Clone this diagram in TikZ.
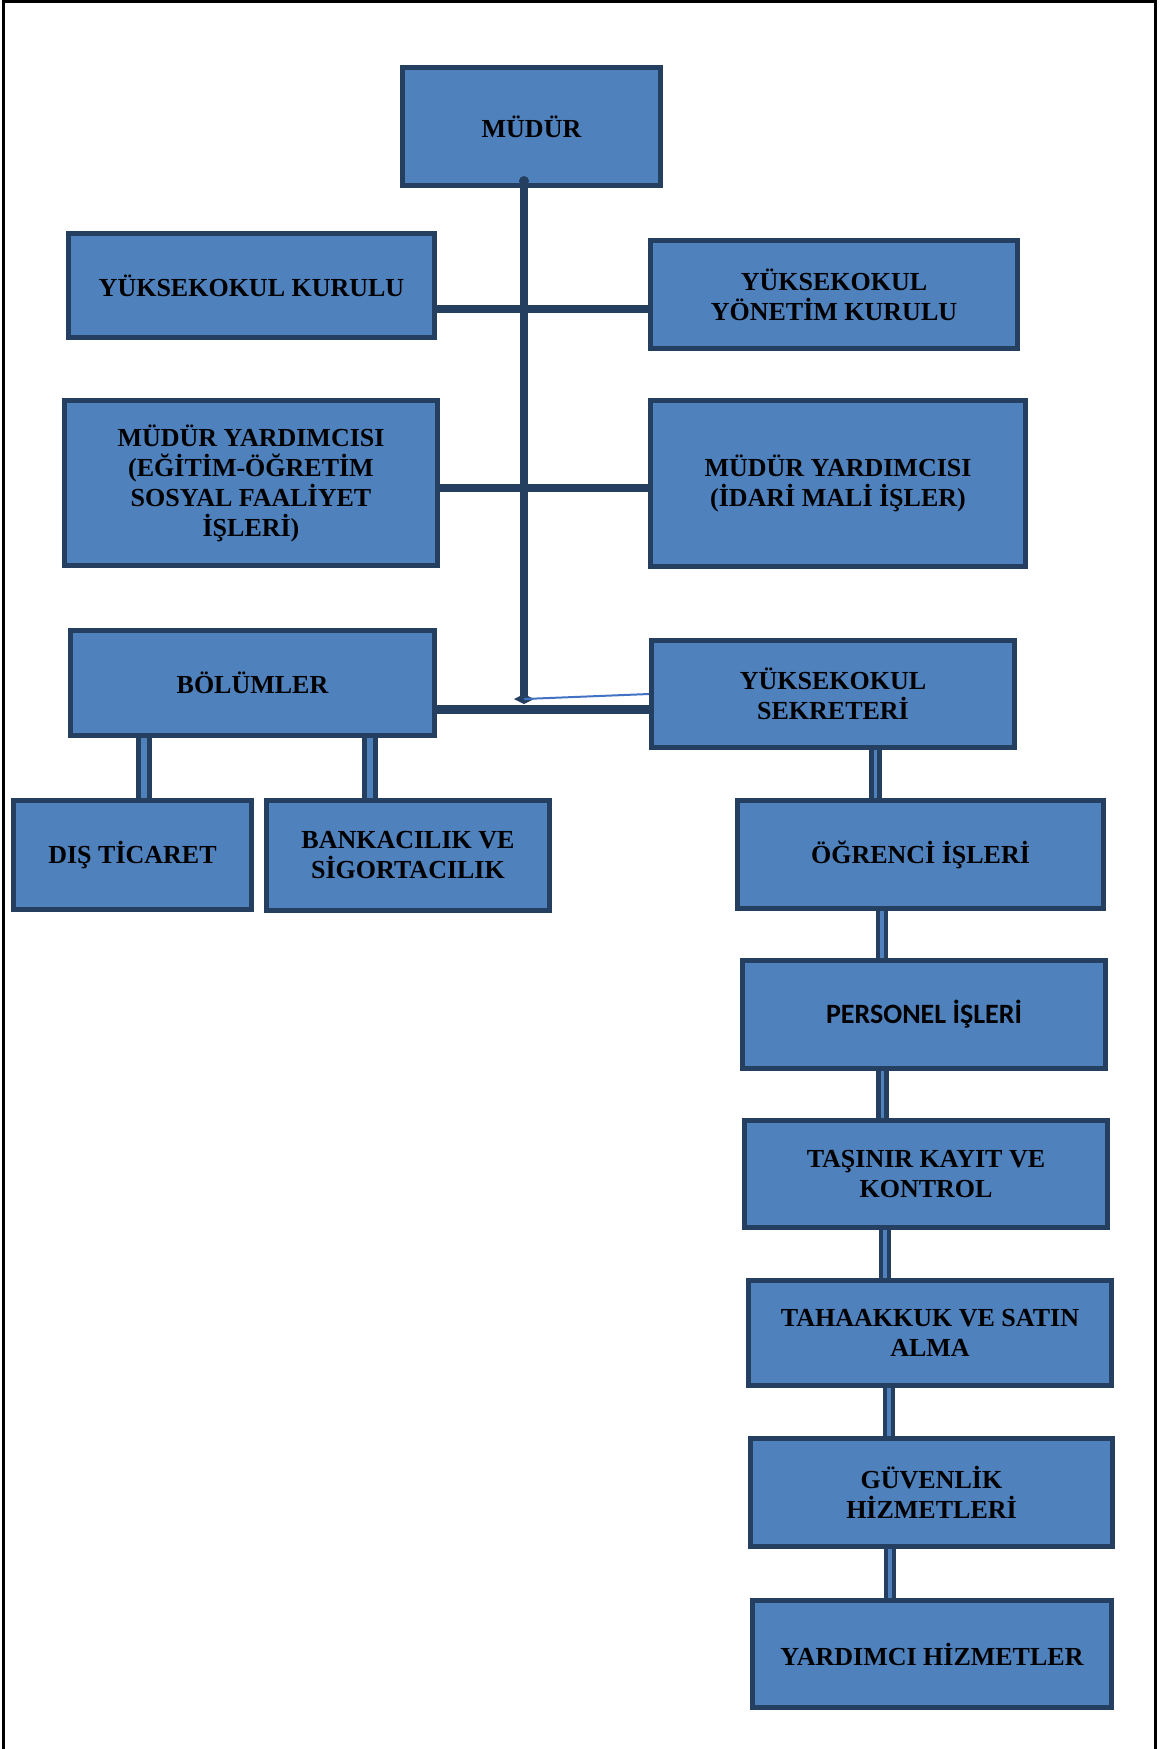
\documentclass[tikz,border=0pt]{standalone}
\usepackage{fontspec}
\setmainfont{Liberation Serif}
\newfontfamily\calib{Carlito}
\definecolor{boxblue}{RGB}{79,129,189}
\definecolor{boxdark}{RGB}{37,63,96}
\definecolor{thinblue}{RGB}{66,114,196}
\pgfdeclarelayer{paper}
\pgfdeclarelayer{bg}
\pgfsetlayers{paper,bg,main}
\tikzset{
  box/.style={draw=boxdark, fill=boxblue, line width=5pt, rectangle, inner sep=0pt, align=center,
    font=\fontsize{26}{30}\selectfont\bfseries, text=black},
  trunkline/.style={draw=boxdark, line width=8pt},
  hline/.style={draw=boxdark, line width=8pt, line cap=round},
  dblR/.style={draw=boxdark, line width=4.5pt, double=boxblue, double distance=3.5pt},
  dblL/.style={draw=boxdark, line width=5pt, double=boxblue, double distance=6pt},
  frameline/.style={draw=black, line width=3pt}
}
\begin{document}
\begin{tikzpicture}[x=1pt,y=-1pt]
\useasboundingbox (0,0) rectangle (1160,1749);
\begin{pgfonlayer}{paper}
\fill[white] (0,0) rectangle (1160,1749);
\end{pgfonlayer}
% page frame
\coordinate (fTL) at (3.5,0);
\coordinate (fBL) at (3.5,1749);
\coordinate (fTR) at (1155.5,0);
\coordinate (fBR) at (1155.5,1749);
\coordinate (fT1) at (2,1.5);
\coordinate (fT2) at (1157,1.5);
\draw[frameline] (fTL) -- (fBL);
\draw[frameline] (fTR) -- (fBR);
\draw[frameline] (fT1) -- (fT2);

% boxes
\node[box, minimum width=258pt, minimum height=118pt] (mudur) at (531.5,126.5) {MÜDÜR};
\node[box, minimum width=366pt, minimum height=104pt] (ykurul) at (251.5,285.5) {YÜKSEKOKUL KURULU};
\node[box, minimum width=367pt, minimum height=108pt] (yyon) at (834,294.5) {YÜKSEKOKUL\\YÖNETİM KURULU};
\node[box, minimum width=373pt, minimum height=165pt] (myl) at (251,483) {MÜDÜR YARDIMCISI\\(EĞİTİM-ÖĞRETİM\\SOSYAL FAALİYET\\İŞLERİ)};
\node[box, minimum width=375pt, minimum height=166pt] (myr) at (838,483.5) {MÜDÜR YARDIMCISI\\(İDARİ MALİ İŞLER)};
\node[box, minimum width=364pt, minimum height=105pt] (bolum) at (252.5,683) {BÖLÜMLER};
\node[box, minimum width=363pt, minimum height=107pt] (sek) at (833,694) {YÜKSEKOKUL\\SEKRETERİ};
\node[box, minimum width=238pt, minimum height=109pt] (dis) at (132.5,855) {DIŞ TİCARET};
\node[box, minimum width=283pt, minimum height=110pt] (bank) at (408,855.5) {BANKACILIK VE\\SİGORTACILIK};
\node[box, minimum width=366pt, minimum height=108pt] (ogr) at (920.5,854.5) {ÖĞRENCİ İŞLERİ};
\node[box, minimum width=363pt, minimum height=108pt, font=\fontsize{28}{32}\selectfont\calib\bfseries] (pers) at (924,1014.5) {PERSONEL İŞLERİ};
\node[box, minimum width=363pt, minimum height=107pt] (tas) at (926,1174) {TAŞINIR KAYIT VE\\KONTROL};
\node[box, minimum width=363pt, minimum height=105pt] (tah) at (930,1333) {TAHAAKKUK VE SATIN\\ALMA};
\node[box, minimum width=362pt, minimum height=108pt] (guv) at (931.5,1492.5) {GÜVENLİK\\HİZMETLERİ};
\node[box, minimum width=359pt, minimum height=107pt] (yard) at (932,1654) {YARDIMCI HİZMETLER};

% helper coordinates
\coordinate (ttop) at (524,181);
\coordinate (tbot) at (524,699);
\coordinate (h1) at (0,309);
\coordinate (h2) at (0,488);
\coordinate (h3) at (0,709);
\coordinate (cL1) at (144,0);
\coordinate (cL2) at (370,0);
\coordinate (cR1) at (875.5,0);
\coordinate (cR2) at (882,0);
\coordinate (cR3) at (882.5,0);
\coordinate (cR4) at (885,0);
\coordinate (cR5) at (889,0);
\coordinate (cR6) at (890,0);

% double connectors (behind boxes)
\begin{pgfonlayer}{bg}
\draw[dblL] (bolum.south -| cL1) -- (dis.north -| cL1);
\draw[dblL] (bolum.south -| cL2) -- (bank.north -| cL2);
\draw[dblR] (sek.south -| cR1) -- (ogr.north -| cR1);
\draw[dblR] (ogr.south -| cR2) -- (pers.north -| cR2);
\draw[dblR] (pers.south -| cR3) -- (tas.north -| cR3);
\draw[dblR] (tas.south -| cR4) -- (tah.north -| cR4);
\draw[dblR] (tah.south -| cR5) -- (guv.north -| cR5);
\draw[dblR] (guv.south -| cR6) -- (yard.north -| cR6);
\end{pgfonlayer}

% trunk and horizontals
\draw[trunkline] (ttop) -- (tbot);
\fill[boxdark] (ttop) circle (5pt);
\draw[hline] (ykurul.east |- h1) -- (yyon.west |- h1);
\draw[hline] (myl.east |- h2) -- (myr.west |- h2);
\draw[hline, line width=9pt] (bolum.east |- h3) -- (sek.west |- h3);
\fill[boxdark] (514,699) -- (524,694) -- (534,699) -- (524,704) -- cycle;
\draw[thinblue, line width=2pt] (tbot) -- (sek.west);
\end{tikzpicture}
\end{document}
